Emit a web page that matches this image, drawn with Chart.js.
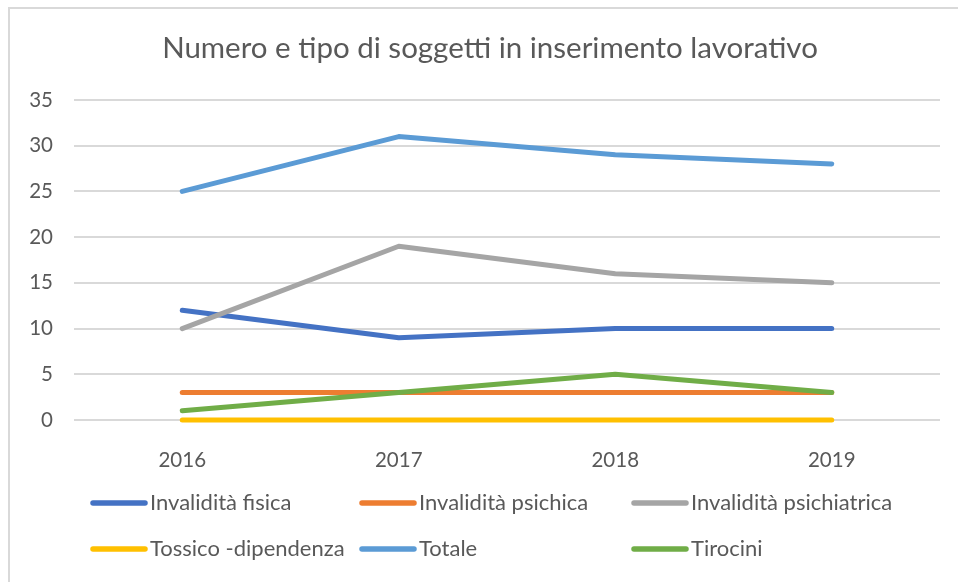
<!DOCTYPE html>
<html>
<head>
<meta charset="utf-8">
<script src="https://cdn.jsdelivr.net/npm/chart.js@4/dist/chart.umd.min.js"></script>
<style>
  html, body { margin: 0; padding: 0; background: #fff; }
  #wrap { position: relative; width: 958px; height: 582px; }
  #frame { position: absolute; left: 8px; top: 7px; width: 960px; height: 590px;
           border-left: 2px solid #d9d9d9; border-top: 2px solid #d9d9d9; pointer-events: none; }
</style>
</head>
<body>
<div id="wrap">
  <canvas id="c" width="958" height="582"></canvas>
  <div id="frame"></div>
</div>
<script>
const titleText = "Numero e tipo di soggetti in inserimento lavorativo";
const categories = ["2016", "2017", "2018", "2019"];
const seriesNames = ["Invalidità fisica", "Invalidità psichica", "Invalidità psichiatrica", "Tossico -dipendenza", "Totale", "Tirocini"];
const invaliditaFisica = [12, 9, 10, 10];
const invaliditaPsichica = [3, 3, 3, 3];
const invaliditaPsichiatrica = [10, 19, 16, 15];
const tossicoDipendenza = [0, 0, 0, 0];
const totale = [25, 31, 29, 28];
const tirocini = [1, 3, 5, 3];
const yTicks = [0, 5, 10, 15, 20, 25, 30, 35];

const colors = ["#4472C4", "#ED7D31", "#A5A5A5", "#FFC000", "#5B9BD5", "#70AD47"];
const seriesData = [invaliditaFisica, invaliditaPsichica, invaliditaPsichiatrica, tossicoDipendenza, totale, tirocini];
const FONT = "Lato, 'Open Sans', sans-serif";
const TEXT = "#595959";

const datasets = seriesNames.map((name, i) => ({
  label: name,
  data: seriesData[i],
  borderColor: colors[i],
  backgroundColor: colors[i],
  borderWidth: 5,
  borderCapStyle: "round",
  borderJoinStyle: "round",
  pointRadius: 0,
  pointHoverRadius: 0,
  tension: 0,
  fill: false,
  clip: 6,
  order: -i
}));

const customPlugin = {
  id: "custom",
  afterDraw(chart) {
    const ctx = chart.ctx;
    ctx.save();
    // title
    ctx.fillStyle = TEXT;
    ctx.font = "29.5px " + FONT;
    ctx.textAlign = "center";
    ctx.textBaseline = "middle";
    ctx.fillText(titleText, 490, 48);
    // legend
    const cols = [91, 360, 632];
    const rows = [503, 549];
    ctx.font = "22px " + FONT;
    ctx.textAlign = "left";
    seriesNames.forEach((name, i) => {
      const x = cols[i % 3], y = rows[Math.floor(i / 3)];
      ctx.strokeStyle = colors[i];
      ctx.lineWidth = 5.5;
      ctx.lineCap = "round";
      ctx.beginPath();
      ctx.moveTo(x + 2, y);
      ctx.lineTo(x + 54, y);
      ctx.stroke();
      ctx.fillStyle = TEXT;
      ctx.fillText(name, x + 59, y);
    });
    ctx.restore();
  }
};

new Chart(document.getElementById("c"), {
  type: "line",
  data: { labels: categories, datasets },
  options: {
    responsive: false,
    animation: false,
    devicePixelRatio: 1,
    layout: { padding: { left: 0, right: 18, top: 100, bottom: 0 } },
    plugins: { legend: { display: false }, title: { display: false }, tooltip: { enabled: false } },
    scales: {
      x: {
        offset: true,
        grid: { display: false },
        border: { display: false },
        ticks: { color: TEXT, font: { family: FONT, size: 20.5 }, padding: 20, maxRotation: 0 },
        afterFit(scale) { scale.height = 162; }
      },
      y: {
        min: 0, max: 35,
        afterBuildTicks(scale) { scale.ticks = yTicks.map(v => ({ value: v })); },
        grid: { color: "#d9d9d9", lineWidth: 2, drawTicks: false },
        border: { display: false },
        ticks: { color: TEXT, font: { family: FONT, size: 20.5 }, padding: 21 },
        afterFit(scale) { scale.width = 74; }
      }
    }
  },
  plugins: [customPlugin]
});
</script>
</body>
</html>
